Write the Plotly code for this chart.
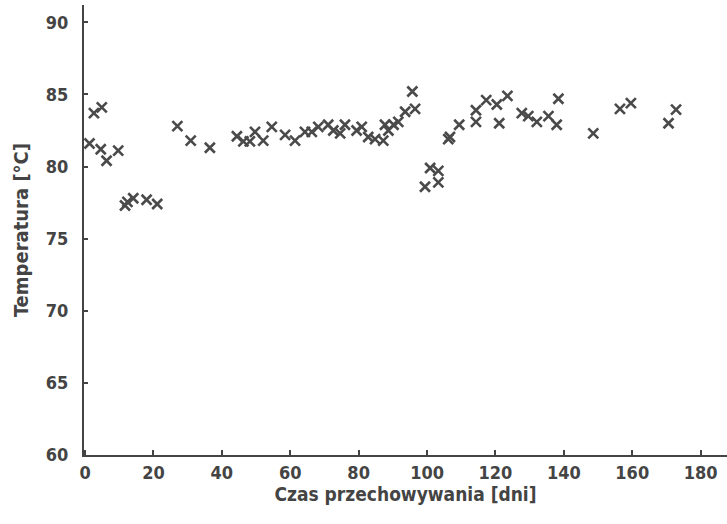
import plotly.graph_objects as go

days = [1.3, 2.6, 4.6, 4.9, 6.3, 9.7, 11.7, 12.4, 14.1, 18.0, 21.1, 27.0, 30.9, 36.5,
        44.4, 46.3, 48.2, 49.7, 52.1, 54.6, 58.5, 61.4, 64.3, 66.3, 68.2, 71.1, 72.6,
        74.6, 76.0, 79.4, 80.9, 82.8, 84.8, 87.2, 87.7, 88.7, 90.2, 91.6, 93.6, 95.7,
        96.5, 99.4, 100.9, 103.3, 103.3, 106.2, 106.7, 109.4, 114.3, 114.3, 117.3,
        120.4, 121.1, 123.5, 127.7, 129.6, 132.1, 135.5, 137.9, 138.4, 148.6, 156.4,
        159.6, 170.6, 172.8]
temps = [81.6, 83.7, 81.2, 84.1, 80.4, 81.1, 77.3, 77.55, 77.8, 77.7, 77.4, 82.8, 81.8, 81.3,
         82.1, 81.75, 81.75, 82.4, 81.8, 82.75, 82.2, 81.8, 82.4, 82.4, 82.75, 82.9, 82.5,
         82.3, 82.9, 82.5, 82.75, 82.05, 81.9, 81.8, 82.9, 82.5, 82.9, 83.1, 83.8, 85.2,
         84.0, 78.6, 79.9, 79.7, 78.9, 81.9, 82.05, 82.9, 83.9, 83.1, 84.6,
         84.3, 83.0, 84.9, 83.7, 83.5, 83.1, 83.5, 82.9, 84.7, 82.3, 84.0,
         84.4, 83.0, 83.95]

x_ticks = [0, 20, 40, 60, 80, 100, 120, 140, 160, 180]
y_ticks = [60, 65, 70, 75, 80, 85, 90]

FONT = "DejaVu Sans Condensed, DejaVu Sans, sans-serif"
INK = "#444444"

fig = go.Figure(go.Scatter(
    x=days, y=temps, mode="markers",
    marker=dict(symbol="x-thin", size=10, line=dict(width=2.6, color="#4a4a4a"), color="#4a4a4a"),
))

fig.update_layout(
    width=727, height=524,
    margin=dict(l=84, r=0, t=5, b=69),
    paper_bgcolor="white", plot_bgcolor="white",
    showlegend=False,
    font=dict(family=FONT, color=INK, size=18),
)
fig.update_xaxes(
    range=[-0.3, 187.7], tickvals=x_ticks, ticktext=[f"<b>{v}</b>" for v in x_ticks],
    showline=True, linecolor=INK, linewidth=2, ticks="inside", ticklen=5, tickwidth=1.5,
    tickcolor=INK, showgrid=False, zeroline=False,
    title=dict(text="<b>Czas przechowywania [dni]</b>", font=dict(size=19, family=FONT, color=INK), standoff=6),
)
fig.update_yaxes(
    range=[60, 91.2], tickvals=y_ticks, ticktext=[f"<b>{v}</b>" for v in y_ticks],
    showline=True, linecolor=INK, linewidth=2, ticks="inside", ticklen=4, tickwidth=1.5,
    tickcolor=INK, showgrid=False, zeroline=False, ticklabelstandoff=10,
    title=dict(text="<b>Temperatura [°C]</b>", font=dict(size=20, family=FONT, color=INK), standoff=12),
)

fig.write_html("out.html")
